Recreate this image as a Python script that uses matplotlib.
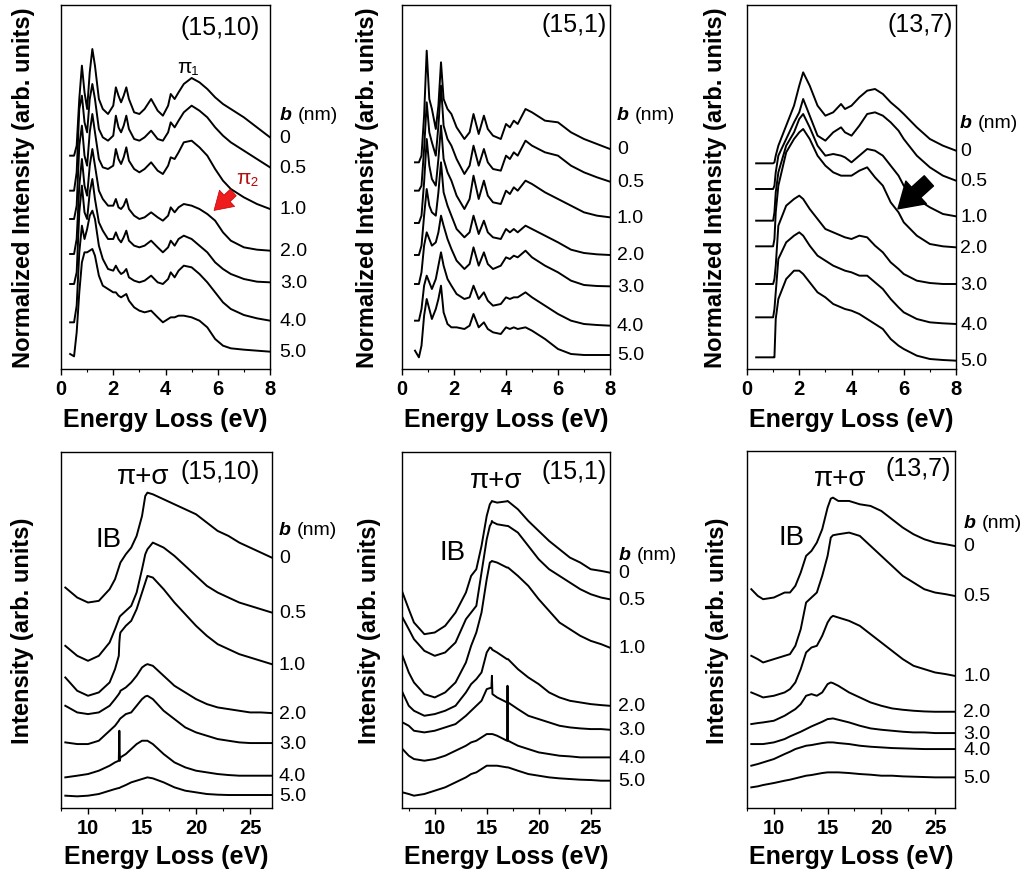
import matplotlib.pyplot as plt

plt.rcParams['font.family'] = ['Liberation Sans', 'DejaVu Sans']
plt.rcParams['axes.linewidth'] = 1.0

# impact parameter of each spectrum, top to bottom
b_labels = ['0', '0.5', '1.0', '2.0', '3.0', '4.0', '5.0']

# ---- low loss, (15,10) ----
e_tl = [0.35, 0.5, 0.6, 0.7, 0.8, 0.9, 1.0, 1.1, 1.2, 1.3,
        1.45, 1.6, 1.8, 2.0, 2.1, 2.2, 2.3, 2.4, 2.5, 2.6,
        2.8, 3.0, 3.2, 3.45, 3.7, 3.9, 4.1, 4.2, 4.35, 4.5,
        4.7, 5.0, 5.3, 5.6, 5.9, 6.2, 6.5, 7.0, 7.5, 8.0]
tl_spectra = [
    [640, 640, 670, 810, 910, 830, 780, 890, 960, 910, 810, 780, 765, 790, 845, 820, 800, 820, 845, 810,
     770, 765, 780, 810, 775, 760, 790, 825, 810, 830, 855, 873, 860, 840, 815, 795, 780, 755, 725, 695],
    [535, 535, 590, 780, 820, 740, 710, 810, 855, 810, 720, 695, 685, 700, 760, 725, 710, 730, 760, 720,
     690, 685, 695, 715, 690, 685, 710, 740, 725, 745, 770, 790, 775, 755, 725, 700, 680, 655, 630, 605],
    [450, 450, 490, 670, 730, 640, 610, 710, 765, 710, 630, 605, 600, 610, 660, 630, 615, 635, 665, 625,
     600, 590, 600, 620, 595, 585, 610, 635, 630, 650, 680, 685, 665, 640, 600, 565, 540, 515, 495, 480],
    [345, 345, 390, 550, 630, 550, 520, 610, 660, 610, 535, 510, 490, 490, 510, 485, 480, 490, 510, 480,
     460, 450, 455, 470, 455, 445, 460, 485, 470, 485, 495, 490, 480, 465, 445, 410, 385, 365, 358, 355],
    [255, 255, 290, 470, 550, 470, 450, 530, 570, 510, 440, 415, 390, 390, 410, 390, 380, 395, 415, 385,
     370, 365, 370, 385, 365, 350, 365, 385, 370, 390, 400, 390, 370, 350, 320, 300, 285, 270, 262, 260],
    [140, 140, 190, 350, 430, 390, 420, 460, 475, 450, 370, 330, 300, 295, 310, 295, 285, 290, 300, 275,
     265, 260, 265, 280, 260, 255, 270, 290, 275, 295, 310, 305, 285, 260, 230, 200, 180, 162, 152, 145],
    [45, 38, 110, 230, 320, 350, 350, 355, 360, 340, 280, 250, 240, 230, 230, 220, 215, 220, 225, 205,
     185, 175, 170, 175, 155, 140, 150, 155, 155, 160, 160, 155, 145, 125, 90, 70, 62, 58, 55, 52],
]

# ---- low loss, (15,1) ----
e_tm = [0.5, 0.65, 0.75, 0.85, 0.95, 1.05, 1.15, 1.3, 1.4, 1.5,
        1.6, 1.75, 1.9, 2.1, 2.4, 2.6, 2.75, 2.95, 3.15, 3.3,
        3.5, 3.8, 4.0, 4.15, 4.3, 4.45, 4.75, 5.0, 5.5, 6.0,
        6.5, 7.0, 7.5, 8.0]
tm_spectra = [
    [620, 620, 640, 760, 955, 810, 780, 720, 790, 920, 810, 780, 765, 725, 690, 710, 765, 705, 760, 720,
     700, 690, 735, 725, 745, 735, 780, 770, 745, 740, 710, 690, 675, 660],
    [535, 535, 550, 660, 800, 710, 680, 640, 730, 850, 730, 690, 670, 630, 585, 610, 670, 610, 660, 620,
     600, 595, 640, 630, 650, 640, 685, 670, 650, 640, 610, 590, 575, 562],
    [438, 438, 460, 560, 690, 610, 570, 550, 630, 730, 630, 590, 565, 520, 480, 510, 580, 510, 565, 520,
     500, 495, 535, 525, 545, 535, 565, 555, 530, 510, 490, 470, 460, 455],
    [342, 342, 370, 460, 540, 490, 470, 460, 530, 620, 530, 490, 460, 420, 395, 410, 460, 405, 445, 410,
     395, 390, 420, 410, 420, 410, 430, 420, 400, 380, 358, 348, 344, 342],
    [255, 255, 290, 370, 410, 390, 370, 380, 410, 460, 430, 390, 360, 325, 300, 315, 365, 310, 350, 315,
     300, 310, 335, 330, 340, 335, 355, 335, 310, 290, 265, 252, 249, 248],
    [145, 145, 180, 250, 280, 260, 240, 270, 310, 350, 310, 270, 250, 225, 210, 215, 250, 210, 230, 205,
     190, 195, 215, 210, 215, 215, 230, 215, 190, 165, 145, 135, 132, 130],
    [55, 35, 70, 160, 210, 180, 150, 180, 210, 250, 170, 135, 125, 125, 120, 130, 165, 125, 140, 120,
     110, 105, 125, 120, 125, 120, 125, 115, 90, 60, 45, 42, 42, 42],
]

# ---- low loss, (13,7) ----
e_tr = [0.35, 1.0, 1.05, 1.1, 1.2, 1.5, 1.8, 2.0, 2.15, 2.4,
        2.7, 3.0, 3.3, 3.6, 3.75, 4.0, 4.3, 4.6, 4.9, 5.2,
        5.5, 5.8, 6.0, 6.5, 7.0, 7.5, 8.0]
tr_spectra = [
    [617, 617, 620, 640, 670, 730, 790, 850, 890, 850, 790, 760, 770, 795, 780, 790, 815, 835, 840, 825,
     800, 780, 765, 725, 690, 670, 655],
    [540, 540, 550, 590, 640, 690, 740, 770, 810, 760, 700, 685, 710, 725, 710, 700, 730, 765, 770, 760,
     740, 715, 690, 640, 605, 580, 565],
    [445, 445, 470, 530, 590, 670, 710, 750, 765, 725, 670, 640, 645, 640, 635, 620, 640, 660, 655, 640,
     610, 580, 550, 510, 485, 465, 458],
    [368, 368, 390, 470, 550, 650, 690, 710, 720, 690, 640, 610, 590, 580, 580, 580, 595, 605, 575, 550,
     500, 470, 440, 400, 375, 368, 365],
    [255, 255, 270, 310, 430, 490, 510, 520, 510, 480, 450, 420, 410, 400, 395, 390, 400, 395, 370, 350,
     320, 300, 285, 265, 258, 255, 255],
    [155, 155, 180, 230, 330, 380, 400, 410, 400, 370, 340, 325, 310, 300, 295, 290, 280, 280, 260, 240,
     210, 185, 170, 150, 140, 137, 135],
    [35, 35, 35, 150, 210, 270, 295, 295, 285, 260, 230, 215, 195, 185, 180, 175, 165, 150, 135, 120,
     90, 70, 60, 40, 30, 27, 25],
]

# ---- plasmon region, (15,10) ----
e_bl = [7.9, 9, 10, 11, 12, 12.5, 12.85, 12.9, 12.95, 13,
        13.5, 14, 14.5, 15, 15.3, 15.5, 16, 17, 18, 19,
        20, 21, 22, 23, 24, 25, 26, 27]
bl_spectra = [
    [662, 632, 617, 622, 657, 687, 722, 727, 732, 737, 762, 782, 817, 877, 937, 947, 942, 927, 912, 897,
     882, 857, 832, 817, 797, 782, 767, 752],
    [487, 457, 442, 457, 497, 537, 567, 572, 575, 577, 592, 607, 647, 717, 762, 777, 797, 782, 757, 727,
     697, 667, 647, 632, 617, 607, 597, 587],
    [392, 352, 337, 347, 377, 417, 457, 497, 517, 527, 547, 562, 597, 647, 677, 697, 692, 657, 617, 582,
     547, 517, 492, 477, 462, 452, 442, 432],
    [307, 287, 282, 287, 307, 327, 342, 345, 347, 352, 362, 377, 397, 422, 429, 432, 427, 397, 367, 347,
     327, 312, 302, 297, 292, 287, 287, 285],
    [197, 192, 192, 202, 232, 247, 262, 265, 267, 269, 282, 287, 307, 327, 335, 337, 327, 292, 267, 242,
     227, 217, 207, 202, 197, 195, 195, 195],
    [92, 97, 102, 112, 127, 137, 142, 232, 142, 152, 162, 177, 192, 202, 202, 202, 192, 162, 137, 122,
     112, 107, 102, 99, 97, 97, 97, 97],
    [37, 35, 37, 42, 52, 57, 60, 60, 61, 62, 69, 77, 82, 87, 90, 92, 89, 77, 62, 52,
     47, 42, 40, 39, 39, 39, 39, 39],
]

# ---- plasmon region, (15,1) ----
e_bm = [6.9, 7.5, 8, 9, 10, 11, 12, 13, 13.5, 14,
        14.5, 15, 15.3, 15.45, 15.5, 15.55, 16, 16.95, 17, 17.05,
        18, 19, 20, 21, 22, 23, 24, 25, 26, 26.8]
bm_spectra = [
    [647, 597, 557, 522, 527, 547, 587, 647, 697, 717, 787, 877, 912, 919, 922, 921, 917, 921, 922, 921,
     897, 862, 832, 802, 777, 752, 737, 717, 712, 707],
    [572, 537, 507, 472, 457, 467, 497, 567, 587, 607, 707, 807, 847, 855, 862, 859, 852, 847, 847, 847,
     827, 787, 747, 717, 697, 677, 657, 642, 632, 627],
    [457, 407, 377, 342, 332, 347, 377, 437, 487, 527, 587, 687, 737, 740, 742, 741, 737, 722, 722, 722,
     697, 667, 627, 592, 557, 537, 517, 502, 492, 482],
    [347, 307, 292, 277, 282, 292, 307, 347, 372, 387, 407, 467, 482, 480, 477, 475, 467, 447, 447, 447,
     417, 392, 372, 347, 332, 322, 317, 312, 309, 307],
    [257, 247, 232, 227, 232, 242, 252, 277, 292, 307, 322, 357, 360, 361, 397, 342, 332, 317, 317, 317,
     297, 277, 267, 257, 247, 242, 239, 237, 237, 235],
    [177, 157, 147, 142, 147, 157, 172, 187, 197, 202, 212, 222, 222, 222, 222, 222, 217, 202, 367, 202,
     187, 177, 167, 162, 157, 155, 152, 152, 152, 152],
    [47, 42, 37, 42, 52, 62, 77, 92, 102, 107, 117, 127, 127, 127, 127, 127, 127, 122, 122, 122,
     112, 102, 97, 92, 89, 87, 85, 84, 82, 82],
]

# ---- plasmon region, (13,7) ----
e_br = [7.9, 8.5, 9, 10, 11, 11.5, 12, 12.5, 13, 13.5,
        14, 14.5, 15, 15.3, 15.5, 16, 17, 18, 19, 20,
        21, 22, 23, 24, 25, 26, 26.8]
br_spectra = [
    [657, 637, 627, 632, 647, 647, 667, 707, 757, 772, 797, 837, 902, 929, 932, 922, 922, 912, 907, 892,
     867, 842, 822, 807, 797, 792, 787],
    [457, 447, 437, 447, 457, 462, 487, 537, 617, 632, 647, 697, 757, 812, 819, 822, 827, 817, 787, 757,
     727, 697, 677, 657, 647, 642, 637],
    [347, 339, 332, 337, 347, 357, 377, 417, 467, 482, 487, 517, 557, 572, 577, 572, 562, 547, 522, 497,
     472, 447, 427, 417, 407, 402, 397],
    [252, 255, 257, 262, 277, 287, 297, 312, 337, 342, 337, 347, 372, 377, 375, 367, 347, 332, 317, 307,
     299, 295, 292, 290, 289, 289, 289],
    [192, 192, 192, 197, 207, 215, 222, 229, 237, 245, 252, 259, 267, 268, 269, 265, 257, 247, 239, 235,
     232, 229, 227, 227, 225, 225, 225],
    [127, 132, 137, 147, 162, 169, 177, 182, 187, 189, 192, 195, 197, 197, 197, 195, 192, 187, 184, 182,
     180, 179, 178, 177, 177, 177, 177],
    [62, 65, 69, 75, 82, 85, 89, 93, 97, 99, 102, 105, 107, 107, 107, 107, 105, 102, 100, 97,
     97, 95, 94, 93, 92, 92, 92],
]

low_ticks = [0, 2, 4, 6, 8]
low_minor = [1, 3, 5, 7]
high_ticks = [10, 15, 20, 25]
high_minor = [7.5, 12.5, 17.5, 22.5]

fig = plt.figure(figsize=(10.36, 8.7), dpi=100)
W, H = 1036, 870


def add_panel(box, energy, spectra, xlim, ylim, ticks, minor, ylabel, ylab_dx, xlab_dy,
              title, title_xy, bnm_y, lab_dx):
    left, top, right, bottom = box
    ax = fig.add_axes([left / W, 1 - bottom / H, (right - left) / W, (bottom - top) / H])
    for s in spectra:
        ax.plot(energy, s, color='black', lw=1.4)
    ax.set_xlim(*xlim)
    ax.set_ylim(*ylim)
    ax.set_yticks([])
    ax.set_xticks(ticks, labels=[str(t) for t in ticks], fontweight='bold', fontsize=14.5)
    ax.set_xticks(minor, minor=True)
    ax.tick_params(axis='x', which='major', direction='out', length=4, width=1, pad=3)
    ax.tick_params(axis='x', which='minor', direction='out', length=2.5, width=0.8)
    ax.set_xlabel('Energy Loss (eV)', fontsize=18, fontweight='bold')
    ax.xaxis.set_label_coords(0.5, -xlab_dy / (bottom - top))
    ax.set_ylabel(ylabel, fontsize=17, fontweight='bold')
    ax.yaxis.set_label_coords(-ylab_dx / (right - left), 0.5)

    for s, lab in zip(spectra, b_labels):
        ax.annotate(lab, xy=(1, s[-1]), xycoords=('axes fraction', 'data'),
                    xytext=(lab_dx, 0), textcoords='offset points',
                    va='center', ha='left', fontsize=14, annotation_clip=False)
    ax.annotate('b', xy=(1, bnm_y), xycoords='axes fraction', xytext=(lab_dx, 0),
                textcoords='offset points', va='center', ha='left', fontsize=14,
                fontweight='bold', fontstyle='italic', annotation_clip=False)
    ax.annotate('(nm)', xy=(1, bnm_y), xycoords='axes fraction', xytext=(lab_dx + 13, 0),
                textcoords='offset points', va='center', ha='left', fontsize=14,
                annotation_clip=False)
    ax.text(title_xy[0], title_xy[1], title, transform=ax.transAxes,
            ha='right', va='center', fontsize=18)
    return ax


top_ylim = (0, 1092)
ax1 = add_panel((61, 6, 270, 370), e_tl, tl_spectra, (0, 8), top_ylim, low_ticks, low_minor,
                'Normalized Intensity (arb. units)', 26, 38, '(15,10)', (0.952, 0.94), 0.70, 7)
ax2 = add_panel((402, 6, 610, 370), e_tm, tm_spectra, (0, 8), top_ylim, low_ticks, low_minor,
                'Normalized Intensity (arb. units)', 23, 38, '(15,1)', (0.986, 0.948), 0.70, 5)
ax3 = add_panel((747, 6, 956, 370), e_tr, tr_spectra, (0, 8), top_ylim, low_ticks, low_minor,
                'Normalized Intensity (arb. units)', 20, 38, '(13,7)', (0.986, 0.948), 0.678, 3)
ax4 = add_panel((61, 453, 272, 809), e_bl, bl_spectra, (7.88, 27.03), (0, 1069), high_ticks, high_minor,
                'Intensity (arb. units)', 27, 36, '(15,10)', (0.943, 0.947), 0.783, 5)
ax5 = add_panel((402, 453, 610, 809), e_bm, bm_spectra, (6.85, 26.86), (0, 1069), high_ticks, high_minor,
                'Intensity (arb. units)', 21, 36, '(15,1)', (0.986, 0.947), 0.713, 6)
ax6 = add_panel((747, 452, 955, 809), e_br, br_spectra, (7.87, 26.86), (0, 1072), high_ticks, high_minor,
                'Intensity (arb. units)', 18, 36, '(13,7)', (0.98, 0.952), 0.80, 6)

# peak labels and arrows
ax1.text(0.608, 0.832, 'π₁', transform=ax1.transAxes, ha='center', va='center', fontsize=15)
ax1.text(0.89, 0.525, 'π₂', transform=ax1.transAxes, ha='center', va='center', fontsize=15,
         color='#b01010')
ax1.annotate('', xy=(5.78, 470), xytext=(6.67, 535),
             arrowprops=dict(arrowstyle='simple,head_length=0.8,head_width=1.0,tail_width=0.4',
                             facecolor='#ee1c1c', edgecolor='#c00000', lw=0.5, mutation_scale=16))
ax3.annotate('', xy=(5.70, 475), xytext=(7.04, 570),
             arrowprops=dict(arrowstyle='simple,head_length=0.8,head_width=1.0,tail_width=0.45',
                             facecolor='black', edgecolor='black', mutation_scale=22))

for ax, pos_ps, pos_ib in [(ax4, (0.389, 0.933), (0.227, 0.756)),
                           (ax5, (0.452, 0.921), (0.245, 0.719)),
                           (ax6, (0.447, 0.924), (0.216, 0.759))]:
    ax.text(pos_ps[0], pos_ps[1], 'π+σ', transform=ax.transAxes, ha='center', va='center', fontsize=20)
    ax.text(pos_ib[0], pos_ib[1], 'IB', transform=ax.transAxes, ha='center', va='center', fontsize=20)

fig.savefig('out.png', dpi=100)
